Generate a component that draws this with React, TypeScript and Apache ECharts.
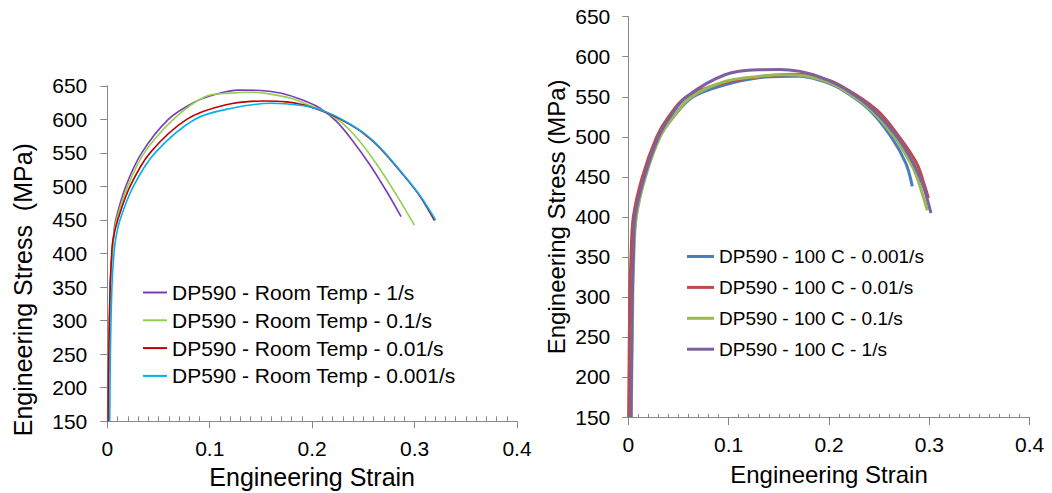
import React, { useEffect, useRef } from 'react';
import * as echarts from 'echarts';

const FONT = '"Liberation Sans", Arial, Helvetica, sans-serif';

// ---------- Left chart: DP590 - Room Temp ----------
const leftNames = [
  'DP590 - Room Temp - 1/s',
  'DP590 - Room Temp - 0.1/s',
  'DP590 - Room Temp - 0.01/s',
  'DP590 - Room Temp - 0.001/s',
];
const leftColors = ['#7A3CB4', '#92D050', '#C00000', '#00B0F0'];

const rt1: [number, number][] = [
  [0.0005, 150], [0.0015, 250], [0.0028, 350], [0.0045, 400], [0.0062, 427], [0.0082, 450],
  [0.018, 500], [0.0336, 550], [0.0596, 600], [0.0856, 626], [0.105, 637], [0.128, 643.5],
  [0.15, 643], [0.17, 638.8], [0.19, 629], [0.2077, 616.5], [0.224, 596.5], [0.24, 567],
  [0.2565, 532], [0.2729, 492], [0.2868, 455],
];
const rt01: [number, number][] = [
  [0.0007, 150], [0.0017, 250], [0.003, 350], [0.0048, 400], [0.0065, 427], [0.009, 450],
  [0.0199, 500], [0.0361, 550], [0.0645, 600], [0.0954, 633.7], [0.12, 639], [0.141, 640.3],
  [0.159, 637.5], [0.18, 631], [0.195, 622], [0.21, 613], [0.228, 596], [0.246, 568],
  [0.263, 533], [0.28, 493], [0.2998, 442.5],
];
const rt001: [number, number][] = [
  [0.0007, 150], [0.0015, 250], [0.0028, 350], [0.004, 390], [0.0055, 420], [0.0102, 450],
  [0.0222, 500], [0.0417, 550], [0.0775, 600], [0.115, 621.4], [0.154, 627.3], [0.175, 626],
  [0.19, 622], [0.205, 615], [0.22, 606], [0.237, 592], [0.25, 579], [0.2663, 557],
  [0.289, 517], [0.3054, 485], [0.3195, 449],
];
const rt0001: [number, number][] = [
  [0.0024, 150], [0.003, 250], [0.0045, 350], [0.006, 390], [0.008, 420], [0.0124, 450],
  [0.0254, 500], [0.0466, 550], [0.0856, 600], [0.1215, 616.5], [0.1605, 623.9], [0.19, 620.5],
  [0.205, 615.5], [0.22, 607], [0.237, 593], [0.25, 580], [0.2663, 558], [0.289, 518],
  [0.3054, 486], [0.3205, 450],
];
const leftData = [rt1, rt01, rt001, rt0001];

// ---------- Right chart: DP590 - 100 C ----------
const rightNames = [
  'DP590 - 100 C - 0.001/s',
  'DP590 - 100 C - 0.01/s',
  'DP590 - 100 C - 0.1/s',
  'DP590 - 100 C - 1/s',
];
const rightColors = ['#4A7EBB', '#BE4B48', '#98B954', '#7D60A0'];

const c0001: [number, number][] = [
  [0.0025, 150], [0.004, 300], [0.005, 350], [0.0075, 400], [0.0165, 450],
  [0.031, 500], [0.045, 525], [0.0646, 550], [0.0964, 565], [0.1296, 573.7], [0.153, 575.4],
  [0.17, 575.5], [0.19, 571], [0.21, 561], [0.2402, 533.7], [0.262, 500], [0.2765, 467],
  [0.283, 438],
];
const c001: [number, number][] = [
  [0.0003, 150], [0.0015, 300], [0.0027, 350], [0.005, 400], [0.014, 450],
  [0.0283, 500], [0.04, 525], [0.058, 550], [0.0964, 567.7], [0.1296, 574.8], [0.153, 577.5],
  [0.17, 578], [0.19, 574], [0.21, 565], [0.2475, 533.7], [0.27, 500], [0.2874, 467],
  [0.295, 440], [0.299, 423.4],
];
const c01: [number, number][] = [
  [0.003, 150], [0.0045, 300], [0.0055, 350], [0.008, 400], [0.0171, 450],
  [0.0317, 500], [0.045, 525], [0.063, 550], [0.0964, 569], [0.1296, 575.4], [0.153, 577.5],
  [0.17, 577], [0.19, 572], [0.21, 562], [0.2415, 533.7], [0.265, 500], [0.2814, 467],
  [0.2875, 450], [0.298, 408],
];
const c1: [number, number][] = [
  [0.0027, 150], [0.004, 300], [0.005, 350], [0.0067, 400], [0.016, 450],
  [0.03, 500], [0.0416, 525], [0.058, 550], [0.0964, 577.5], [0.1296, 583.7], [0.151, 584],
  [0.17, 582], [0.1844, 577.5], [0.2, 570], [0.2176, 558.7], [0.244, 533.7], [0.2675, 500.4],
  [0.284, 467], [0.2935, 440], [0.3016, 404.6],
];
const rightData = [c0001, c001, c01, c1];

const xMin = 0;
const xMax = 0.4;
const xStep = 0.1;
const yMin = 150;
const yMax = 650;
const yStep = 50;

const axisGray = '#888888';

function makeXAxis(gridIndex: number, tickLen: number, minorLen: number, nameGap: number, nameSize: number, labelMargin: number) {
  return {
    type: 'value',
    gridIndex,
    min: xMin,
    max: xMax,
    interval: xStep,
    name: 'Engineering Strain',
    nameLocation: 'middle',
    nameGap,
    nameTextStyle: { fontFamily: FONT, fontSize: nameSize, color: '#000' },
    axisLine: { show: true, lineStyle: { color: axisGray, width: 1 } },
    axisTick: { show: true, inside: false, length: tickLen, lineStyle: { color: axisGray } },
    minorTick: { show: true, splitNumber: 10, length: -minorLen, lineStyle: { color: axisGray } },
    splitLine: { show: false },
    minorSplitLine: { show: false },
    axisLabel: { fontFamily: FONT, fontSize: 21, color: '#000', margin: labelMargin },
  };
}

function makeYAxis(gridIndex: number, tickLen: number, labelMargin: number, name: string, nameGap: number, nameSize: number) {
  return {
    type: 'value',
    gridIndex,
    min: yMin,
    max: yMax,
    interval: yStep,
    name,
    nameLocation: 'middle',
    nameGap,
    nameRotate: 90,
    nameTextStyle: { fontFamily: FONT, fontSize: nameSize, color: '#000' },
    axisLine: { show: true, lineStyle: { color: axisGray, width: 1 } },
    axisTick: { show: true, inside: false, length: tickLen, lineStyle: { color: axisGray } },
    splitLine: { show: false },
    axisLabel: { fontFamily: FONT, fontSize: 21, color: '#000', margin: labelMargin },
  };
}

export default function App() {
  const ref = useRef<HTMLDivElement>(null);

  useEffect(() => {
    if (!ref.current) return;
    const chart = echarts.init(ref.current, undefined, { renderer: 'svg' });

    const series: any[] = [];
    leftData.forEach((d, i) => {
      series.push({
        type: 'line',
        name: leftNames[i],
        xAxisIndex: 0,
        yAxisIndex: 0,
        data: d,
        showSymbol: false,
        symbol: 'none',
        smooth: 0.35,
        color: leftColors[i],
        lineStyle: { color: leftColors[i], width: 1.6 },
        clip: true,
      });
    });
    rightData.forEach((d, i) => {
      series.push({
        type: 'line',
        name: rightNames[i],
        xAxisIndex: 1,
        yAxisIndex: 1,
        data: d,
        showSymbol: false,
        symbol: 'none',
        smooth: 0.35,
        color: rightColors[i],
        lineStyle: { color: rightColors[i], width: 3 },
        clip: true,
      });
    });

    chart.setOption({
      animation: false,
      backgroundColor: '#ffffff',
      textStyle: { fontFamily: FONT },
      grid: [
        { left: 107.3, top: 85.75, width: 409.7, height: 335.55, outerBoundsMode: 'none', containLabel: false },
        { left: 628.3, top: 16.7, width: 401.4, height: 400.3, outerBoundsMode: 'none', containLabel: false },
      ],
      xAxis: [
        makeXAxis(0, 7, 5, 43, 25, 17),
        makeXAxis(1, 8, 3, 45, 24, 17),
      ],
      yAxis: [
        { ...makeYAxis(0, 7, 20, '', 0, 24) },
        makeYAxis(1, 6, 18, 'Engineering Stress (MPa)', 60, 24),
      ],
      legend: [
        {
          data: leftNames,
          orient: 'vertical',
          left: 143,
          top: 282,
          itemWidth: 24,
          itemHeight: 2,
          itemGap: 6.8,
          icon: 'rect',
          padding: 0,
          textStyle: { fontFamily: FONT, fontSize: 21, lineHeight: 20, color: '#000' },
        },
        {
          data: rightNames,
          orient: 'vertical',
          left: 687,
          top: 247,
          itemWidth: 27,
          itemHeight: 3,
          itemGap: 11.9,
          icon: 'rect',
          padding: 0,
          textStyle: { fontFamily: FONT, fontSize: 19, lineHeight: 19, color: '#000' },
        },
      ],
      graphic: [
        {
          type: 'text',
          x: 22.8,
          y: 289.7,
          rotation: Math.PI / 2,
          style: {
            text: 'Engineering Stress  (MPa)',
            font: `25px ${FONT}`,
            fill: '#000',
            textAlign: 'center',
            textVerticalAlign: 'middle',
          },
        },
      ],
      series,
    });

    return () => {
      chart.dispose();
    };
  }, []);

  return (
    <div
      ref={ref}
      style={{ position: 'fixed', left: 0, top: 0, width: 1052, height: 493, background: '#fff' }}
    />
  );
}
